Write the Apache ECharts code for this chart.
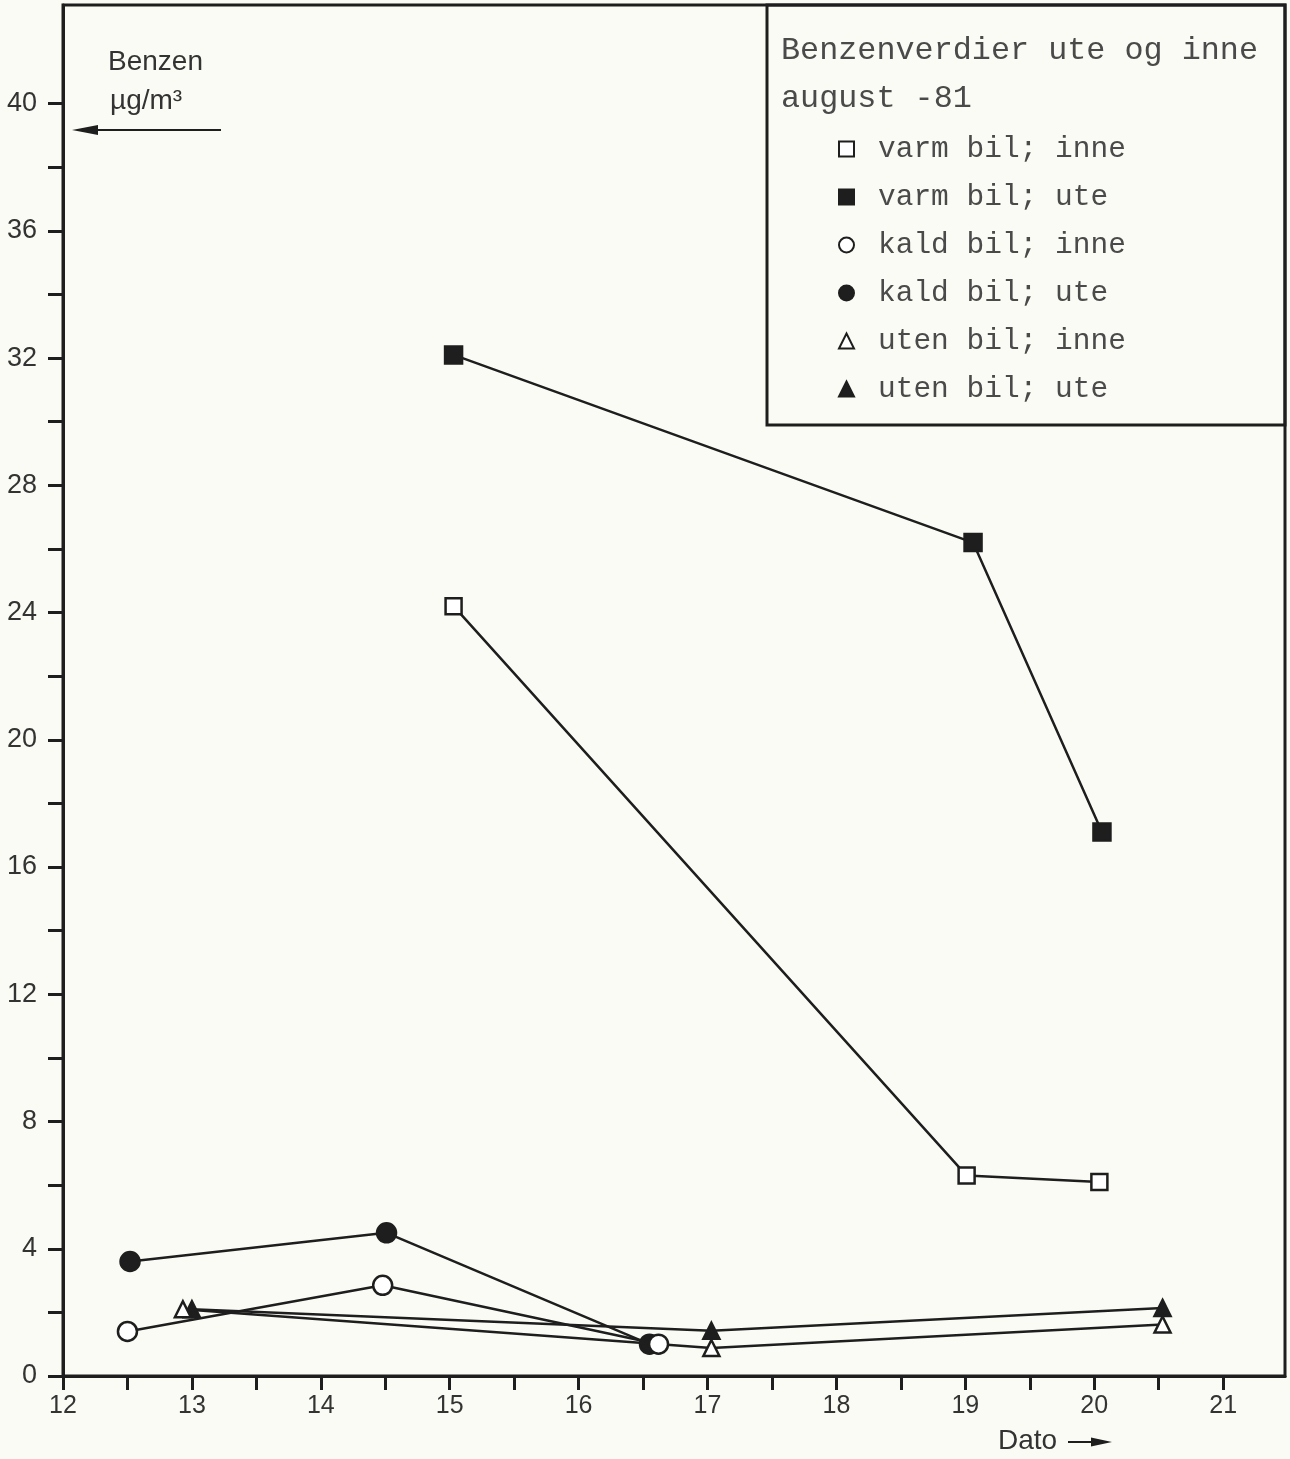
<!DOCTYPE html>
<html>
<head>
<meta charset="utf-8">
<title>Benzenverdier ute og inne</title>
<script src="https://cdn.jsdelivr.net/npm/echarts@6/dist/echarts.min.js"></script>
<style>
  html, body { margin: 0; padding: 0; background: #fbfbf5; }
  #chart { width: 1290px; height: 1459px; }
</style>
</head>
<body>
<div id="chart"></div>
<script>
// [dato, benzen µg/m3], august -81
var varmInne = [[15.03, 24.2], [19.01, 6.3], [20.04, 6.1]]
var varmUte = [[15.03, 32.1], [19.06, 26.2], [20.06, 17.1]]
var kaldInne = [[12.5, 1.4], [14.48, 2.85], [16.62, 1.0]]
var kaldUte = [[12.52, 3.6], [14.51, 4.5], [16.55, 1.0]]
var utenInne = [[12.93, 2.1], [17.03, 0.88], [20.53, 1.62]]
var utenUte = [[13.0, 2.1], [17.03, 1.42], [20.53, 2.14]]

var xTicks = [12, 12.5, 13, 13.5, 14, 14.5, 15, 15.5, 16, 16.5, 17, 17.5, 18, 18.5, 19, 19.5, 20, 20.5, 21]
var xLabels = [12, 13, 14, 15, 16, 17, 18, 19, 20, 21]
var yTicks = [0, 2, 4, 6, 8, 10, 12, 14, 16, 18, 20, 22, 24, 26, 28, 30, 32, 34, 36, 38, 40]
var yLabels = [0, 4, 8, 12, 16, 20, 24, 28, 32, 36, 40]

var ink = '#1e1e1e'
var paper = '#fbfbf5'
var sans = '"Liberation Sans", Arial, sans-serif'
var mono = '"Liberation Mono", "DejaVu Sans Mono", monospace'

var myChart = echarts.init(document.getElementById('chart'))

function serie (name, data, symbol, size, filled) {
  return {
    name: name,
    type: 'line',
    data: data,
    symbol: symbol,
    symbolSize: size,
    showAllSymbol: true,
    lineStyle: { color: ink, width: 2.5 },
    itemStyle: {
      color: filled ? ink : '#fff',
      borderColor: ink,
      borderWidth: 2.5
    },
    emphasis: { disabled: true },
    z: filled ? 3 : 4
  }
}

function legendItem (name, icon, filled) {
  return {
    name: name,
    icon: icon,
    itemStyle: { color: filled ? ink : '#fff', borderColor: ink, borderWidth: 2 }
  }
}

var option = {
  backgroundColor: paper,
  animation: false,
  title: {
    text: 'Benzenverdier ute og inne\naugust -81',
    left: 781,
    top: 27,
    padding: 0,
    textStyle: {
      fontFamily: mono,
      fontWeight: 'normal',
      fontSize: 31.8,
      lineHeight: 48,
      color: '#4a4a4a'
    }
  },
  legend: {
    orient: 'vertical',
    left: 838,
    top: 125,
    padding: 0,
    itemGap: 0,
    itemWidth: 15,
    itemHeight: 15,
    selectedMode: false,
    textStyle: {
      fontFamily: mono,
      fontSize: 29.5,
      lineHeight: 48,
      padding: [0, 0, 0, 19],
      color: '#4a4a4a'
    },
    data: [
      legendItem('varm bil; inne', 'rect', false),
      legendItem('varm bil; ute', 'rect', true),
      legendItem('kald bil; inne', 'circle', false),
      legendItem('kald bil; ute', 'circle', true),
      legendItem('uten bil; inne', 'triangle', false),
      legendItem('uten bil; ute', 'triangle', true)
    ]
  },
  grid: {
    left: 63,
    right: 5,
    top: 5,
    bottom: 83,
    show: true,
    borderColor: ink,
    borderWidth: 3,
    backgroundColor: 'transparent'
  },
  xAxis: {
    type: 'value',
    min: 12,
    max: 21.48,
    splitLine: { show: false },
    axisLine: { lineStyle: { color: ink, width: 3 } },
    axisTick: {
      customValues: xTicks,
      length: 14,
      lineStyle: { color: ink, width: 3 }
    },
    axisLabel: {
      customValues: xLabels,
      margin: 18,
      fontFamily: sans,
      fontSize: 25,
      color: '#333'
    }
  },
  yAxis: {
    type: 'value',
    min: 0,
    max: 43.1,
    splitLine: { show: false },
    axisLine: { lineStyle: { color: ink, width: 3 } },
    axisTick: {
      customValues: yTicks,
      length: 15,
      lineStyle: { color: ink, width: 3 }
    },
    axisLabel: {
      customValues: yLabels,
      margin: 26,
      fontFamily: sans,
      fontSize: 27,
      color: '#333'
    }
  },
  graphic: [
    // ramme rundt tegnforklaringen
    {
      type: 'rect',
      z: 1,
      shape: { x: 767, y: 5, width: 518, height: 420 },
      style: { fill: 'none', stroke: ink, lineWidth: 3 }
    },
    {
      type: 'text',
      left: 108,
      top: 48,
      style: { text: 'Benzen', font: '28px ' + sans, fill: '#333' }
    },
    {
      type: 'text',
      left: 110,
      top: 87,
      style: { text: 'µg/m³', font: '28px ' + sans, fill: '#333' }
    },
    {
      type: 'line',
      shape: { x1: 95, y1: 130, x2: 221, y2: 130 },
      style: { stroke: ink, lineWidth: 2 }
    },
    {
      type: 'polygon',
      shape: { points: [[72, 130], [98, 125], [98, 135]] },
      style: { fill: ink }
    },
    {
      type: 'text',
      left: 998,
      top: 1427,
      style: { text: 'Dato', font: '28px ' + sans, fill: '#333' }
    },
    {
      type: 'line',
      shape: { x1: 1068, y1: 1442, x2: 1095, y2: 1442 },
      style: { stroke: ink, lineWidth: 2 }
    },
    {
      type: 'polygon',
      shape: { points: [[1112, 1442], [1091, 1437.5], [1091, 1446.5]] },
      style: { fill: ink }
    }
  ],
  series: [
    serie('varm bil; inne', varmInne, 'rect', 16, false),
    serie('varm bil; ute', varmUte, 'rect', 17, true),
    serie('kald bil; inne', kaldInne, 'circle', 19, false),
    serie('kald bil; ute', kaldUte, 'circle', 19, true),
    serie('uten bil; inne', utenInne, 'triangle', 16, false),
    serie('uten bil; ute', utenUte, 'triangle', 16, true)
  ]
}

myChart.setOption(option)
</script>
</body>
</html>
